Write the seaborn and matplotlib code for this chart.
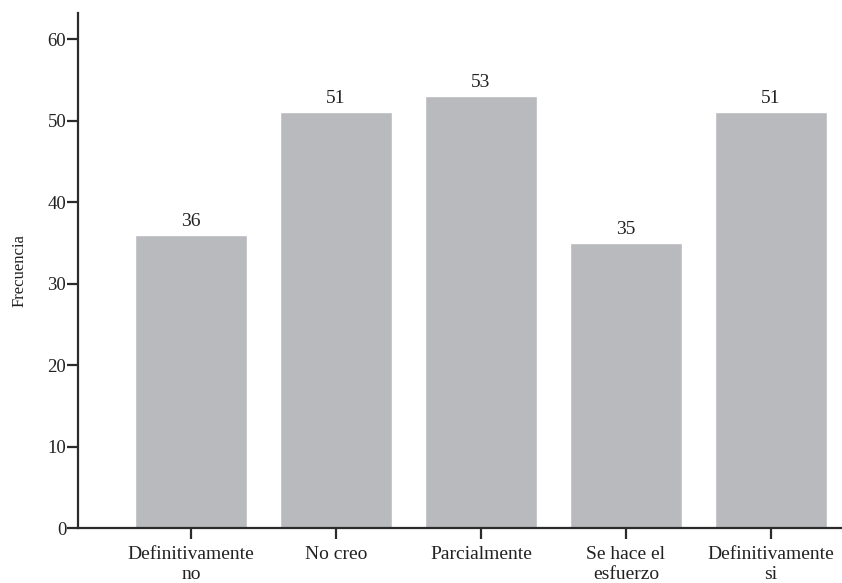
import matplotlib
matplotlib.use("Agg")
import matplotlib.pyplot as plt
import seaborn as sns
import pandas as pd

# Data
categories = ["Definitivamente\nno", "No creo", "Parcialmente", "Se hace el\nesfuerzo", "Definitivamente\nsi"]
frequencies = [36, 51, 53, 35, 51]
y_ticks = [0, 10, 20, 30, 40, 50, 60]

BAR_COLOR = "#b9babd"
AXIS_COLOR = "#2b2b2b"


def plot_chart():
    sns.set_style("white")
    plt.rcParams["font.family"] = ["Liberation Serif", "DejaVu Serif"]

    df = pd.DataFrame({"categoria": categories, "frecuencia": frequencies})

    fig = plt.figure(figsize=(8.42, 5.83), dpi=100)
    ax = fig.add_axes([0.0926, 0.0943, 0.9074, 0.8835])

    sns.barplot(data=df, x="categoria", y="frecuencia", ax=ax,
                color=BAR_COLOR, saturation=1, width=0.77)

    # value labels above the bars
    for i, v in enumerate(frequencies):
        ax.text(i, v + 0.6, str(v), ha="center", va="bottom", fontsize=14, color="#222222")

    ax.set_xlim(-0.78, 4.49)
    ax.set_ylim(0, 63.2)
    ax.set_yticks(y_ticks)
    ax.set_xlabel("")
    ax.set_ylabel("Frecuencia", fontsize=12, color="#222222", labelpad=14)

    for side in ["top", "right"]:
        ax.spines[side].set_visible(False)
    for side in ["left", "bottom"]:
        ax.spines[side].set_color(AXIS_COLOR)
        ax.spines[side].set_linewidth(1.6)

    ax.tick_params(axis="y", direction="out", length=8, width=1.6, color=AXIS_COLOR,
                   labelsize=13.5, labelcolor="#222222", pad=0.5, left=True)
    ax.tick_params(axis="x", direction="out", length=8, width=1.6, color=AXIS_COLOR,
                   labelsize=14, labelcolor="#222222", pad=5, bottom=True)
    for lbl in ax.get_xticklabels():
        lbl.set_linespacing(1.25)
    ax.grid(False)

    fig.savefig("out.png", dpi=100)


if __name__ == "__main__":
    plot_chart()
